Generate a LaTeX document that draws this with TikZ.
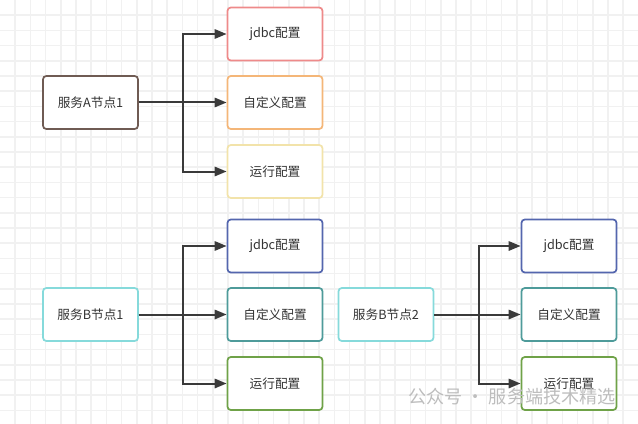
\documentclass[tikz,border=0pt]{standalone}
\usepackage{fontspec}
\setmainfont{Noto Sans CJK SC}
\usepackage{tikz}
\usetikzlibrary{arrows.meta,positioning}

\definecolor{gridminor}{HTML}{F1F1F1}
\definecolor{brownline}{HTML}{6F5B53}
\definecolor{pinkline}{HTML}{EE8A8A}
\definecolor{orangeline}{HTML}{F4B678}
\definecolor{yellowline}{HTML}{F2E3AA}
\definecolor{cyanline}{HTML}{86DADB}
\definecolor{blueline}{HTML}{5466AE}
\definecolor{tealline}{HTML}{4E9B9A}
\definecolor{greenline}{HTML}{6FA248}
\definecolor{arrowgray}{HTML}{3A3A3A}
\definecolor{textgray}{HTML}{333333}
\definecolor{markgray}{HTML}{BDBDBD}

\begin{document}
\begin{tikzpicture}[x=0.75pt, y=-0.75pt,
    box/.style={draw, line width=1.3pt, rounded corners=2.5pt, fill=white,
        minimum width=71.25pt, minimum height=39.75pt,
        text=textgray, font=\fontsize{9.5}{11}\selectfont, inner sep=0pt},
    conn/.style={draw=arrowgray, line width=1.5pt, -{Triangle[length=9pt,width=7pt]}}]
    % background grid
    \useasboundingbox (0,0) rectangle (638,424);
    \foreach \k in {1,...,41} {
        \draw[gridminor, line width=1.2pt] (\k*15.2,0) -- (\k*15.2,424);
    }
    \foreach \k in {1,...,27} {
        \draw[gridminor, line width=1.2pt] (0,\k*15.2) -- (638,\k*15.2);
    }

    % service A
    \node[box, draw=brownline] (a1) at (90.5,102.5) {服务A节点1};
    \node[box, draw=pinkline] (aj) at (275,34) {jdbc配置};
    \node[box, draw=orangeline] (ac) at (275,102.5) {自定义配置};
    \node[box, draw=yellowline] (ar) at (275,171.5) {运行配置};

    % service B, node 1
    \node[box, draw=cyanline] (b1) at (90.5,314.5) {服务B节点1};
    \node[box, draw=blueline] (b1j) at (275,246) {jdbc配置};
    \node[box, draw=tealline] (b1c) at (275,314.5) {自定义配置};
    \node[box, draw=greenline] (b1r) at (275,383.5) {运行配置};

    % service B, node 2
    \node[box, draw=cyanline] (b2) at (386,314.5) {服务B节点2};
    \node[box, draw=blueline] (b2j) at (569,246) {jdbc配置};
    \node[box, draw=tealline] (b2c) at (569,314.5) {自定义配置};
    \node[box, draw=greenline] (b2r) at (569,383.5) {运行配置};

    \foreach \src/\dst in {a1/aj, a1/ac, a1/ar, b1/b1j, b1/b1c, b1/b1r, b2/b2j, b2/b2c, b2/b2r} {
        \draw[conn] (\src.east) -- ++(44.5,0) |- (\dst.west);
    }

    % watermark
    \node[text=markgray, font=\fontsize{13.6}{15}\selectfont, anchor=west, inner sep=0pt] (mark) at (408,397) {公众号 · 服务端技术精选};
\end{tikzpicture}
\end{document}
